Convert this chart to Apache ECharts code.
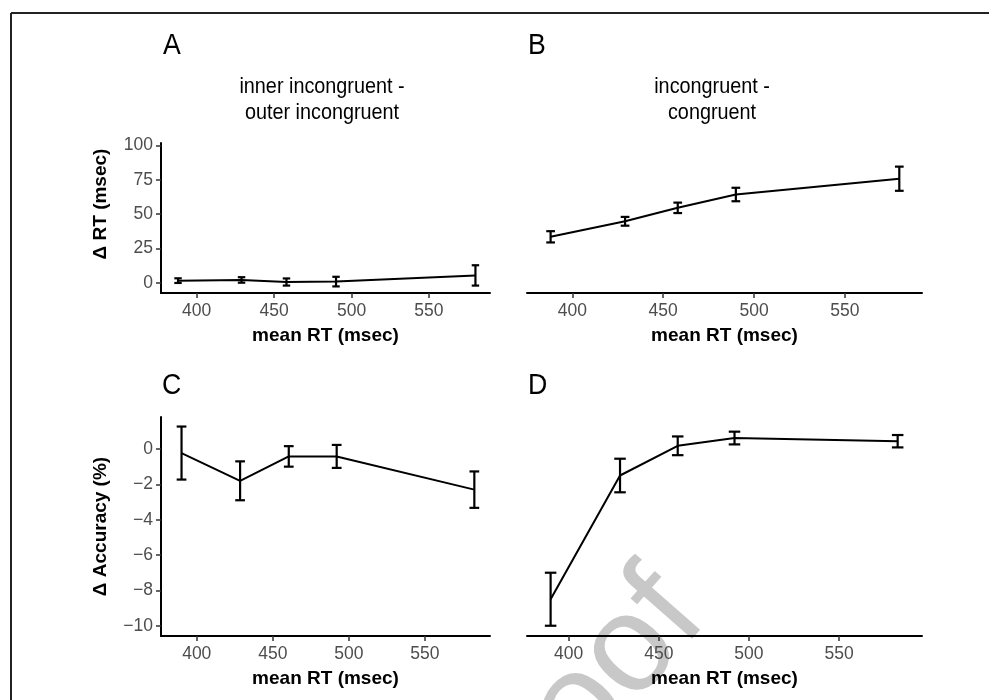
<!DOCTYPE html>
<html>
<head>
<meta charset="utf-8">
<script src="https://cdn.jsdelivr.net/npm/echarts@6/dist/echarts.min.js"></script>
<style>
  html, body { margin: 0; padding: 0; background: #fff; }
  #chart { width: 989px; height: 700px; }
</style>
</head>
<body>
<div id="chart"></div>
<script>
// mean RT per bin (x) and difference scores with standard errors
const rtX = [388, 429, 458, 490, 580];
const accX = [390, 428.5, 460.5, 492, 582.5];
const rtInner = [1.5, 2.0, 0.5, 0.8, 5.3];
const rtInnerSe = [1.7, 2.0, 2.6, 3.5, 7.4];
const rtCong = [33.4, 44.7, 54.5, 64.2, 75.7];
const rtCongSe = [4.1, 3.2, 3.8, 4.9, 8.8];
const accInner = [-0.23, -1.8, -0.42, -0.42, -2.3];
const accInnerSe = [1.5, 1.1, 0.58, 0.65, 1.03];
const accCong = [-8.5, -1.5, 0.18, 0.62, 0.44];
const accCongSe = [1.5, 0.95, 0.53, 0.36, 0.35];
const xTicks = [400, 450, 500, 550];
const rtTicks = [0, 25, 50, 75, 100];
const accTicks = [-10, -8, -6, -4, -2, 0];

const font = 'Liberation Sans, Arial, sans-serif';
const minus = v => String(v).replace('-', '\u2212');

const xAxisOf = (i, min, max) => ({
  gridIndex: i, type: 'value', min: min, max: max,
  name: 'mean RT (msec)', nameLocation: 'middle', nameGap: 33,
  nameTextStyle: { fontFamily: font, fontSize: 19, fontWeight: 'bold', color: '#000' },
  axisLine: { show: true, onZero: false, lineStyle: { color: '#000', width: 2 } },
  axisTick: { show: true, length: 5, customValues: xTicks, lineStyle: { color: '#333', width: 1.5 } },
  axisLabel: { customValues: xTicks, fontFamily: font, fontSize: 17.5, color: '#4d4d4d', margin: 9 },
  splitLine: { show: false }
});

const yAxisOf = (i, min, max, ticks, name, shown, pad) => ({
  gridIndex: i, type: 'value', min: min, max: max, show: shown,
  name: name, nameLocation: 'middle', nameGap: 51, nameRotate: 90,
  nameTextStyle: { fontFamily: font, fontSize: 19, fontWeight: 'bold', color: '#000', padding: pad },
  axisLine: { show: true, onZero: false, lineStyle: { color: '#000', width: 2 } },
  axisTick: { show: true, length: 5, customValues: ticks, lineStyle: { color: '#333', width: 1.5 } },
  axisLabel: { customValues: ticks, fontFamily: font, fontSize: 17.5, color: '#4d4d4d', margin: 8, formatter: minus },
  splitLine: { show: false }
});

const lineOf = (i, xs, ys) => ({
  type: 'line', xAxisIndex: i, yAxisIndex: i,
  data: xs.map((x, k) => [x, ys[k]]),
  symbol: 'none', lineStyle: { color: '#000', width: 2 }, z: 2
});

const errOf = (i, xs, ys, se, hw) => ({
  type: 'custom', xAxisIndex: i, yAxisIndex: i, silent: true, z: 3,
  data: xs.map((x, k) => [x, ys[k] - se[k], ys[k] + se[k]]),
  encode: { x: 0, y: [1, 2] },
  renderItem: (params, api) => {
    const x = api.value(0);
    const lo = api.coord([x, api.value(1)]);
    const hi = api.coord([x, api.value(2)]);
    const l = api.coord([x - hw, api.value(1)])[0];
    const r = api.coord([x + hw, api.value(1)])[0];
    const style = { stroke: '#000', lineWidth: 2.2 };
    return {
      type: 'group', children: [
        { type: 'line', shape: { x1: lo[0], y1: lo[1], x2: hi[0], y2: hi[1] }, style: style },
        { type: 'line', shape: { x1: l, y1: lo[1], x2: r, y2: lo[1] }, style: style },
        { type: 'line', shape: { x1: l, y1: hi[1], x2: r, y2: hi[1] }, style: style }
      ]
    };
  }
});

// panel letters and column headings
const label = (t, x, y, size, align, sx) => ({
  type: 'text', x: x, y: y, scaleX: sx, silent: true,
  style: { text: t, fontFamily: font, fontSize: size, fill: '#000', align: align, verticalAlign: 'middle' }
});

const chart = echarts.init(document.getElementById('chart'));
chart.setOption({
  animation: false,
  backgroundColor: '#fff',
  grid: [
    { left: 161, top: 143, width: 329, height: 150 },
    { left: 527, top: 143, width: 395, height: 150 },
    { left: 161, top: 417, width: 329, height: 219 },
    { left: 527, top: 417, width: 395, height: 219 }
  ],
  xAxis: [
    xAxisOf(0, 377, 589.4),
    xAxisOf(1, 375, 592.5),
    xAxisOf(2, 376.5, 592.8),
    xAxisOf(3, 376.9, 596)
  ],
  yAxis: [
    yAxisOf(0, -7.5, 101.7, rtTicks, '\u0394 RT (msec)', true, [0, 0, 0, 28]),
    yAxisOf(1, -7.5, 101.7, rtTicks, '', false, 0),
    yAxisOf(2, -10.58, 1.81, accTicks, '\u0394 Accuracy (%)', true, 0),
    yAxisOf(3, -10.58, 1.81, accTicks, '', false, 0)
  ],
  graphic: [
    {
      type: 'text', z: -10, silent: true,
      x: 572, y: 718, rotation: 0.85,
      style: { text: 'Proof', fontFamily: font, fontSize: 138, fill: '#c8c8c8', align: 'center', verticalAlign: 'middle' }
    },
    { type: 'line', silent: true, shape: { x1: 11, y1: 13, x2: 989, y2: 13 }, style: { stroke: '#222', lineWidth: 2 } },
    { type: 'line', silent: true, shape: { x1: 11, y1: 13, x2: 11, y2: 700 }, style: { stroke: '#222', lineWidth: 2 } },
    label('A', 163, 46, 29, 'left', 0.92),
    label('B', 528, 46, 29, 'left', 0.92),
    label('C', 162, 386, 29, 'left', 0.92),
    label('D', 528, 386, 29, 'left', 0.92),
    label('inner incongruent -', 322, 87, 22, 'center', 0.9),
    label('outer incongruent', 322, 113, 22, 'center', 0.9),
    label('incongruent -', 712, 87, 22, 'center', 0.9),
    label('congruent', 712, 113, 22, 'center', 0.9)
  ],
  series: [
    lineOf(0, rtX, rtInner), errOf(0, rtX, rtInner, rtInnerSe, 2.4),
    lineOf(1, rtX, rtCong), errOf(1, rtX, rtCong, rtCongSe, 2.4),
    lineOf(2, accX, accInner), errOf(2, accX, accInner, accInnerSe, 3.2),
    lineOf(3, accX, accCong), errOf(3, accX, accCong, accCongSe, 3.2)
  ]
});
</script>
</body>
</html>
